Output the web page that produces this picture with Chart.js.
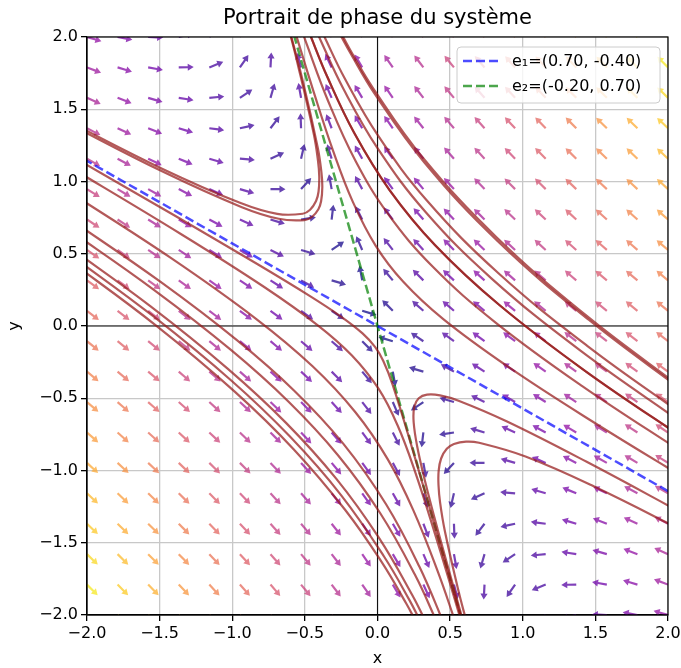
<!DOCTYPE html>
<html>
<head>
<meta charset="utf-8">
<script src="https://cdn.jsdelivr.net/npm/chart.js@4.4.1/dist/chart.umd.min.js"></script>
<style>
  body { margin: 0; background: #fff; }
  #wrap { width: 681px; height: 668px; }
</style>
</head>
<body>
<div id="wrap"><canvas id="chart"></canvas></div>
<script>
// eigenvectors from the legend, eigenvalues estimated from the arrows
const e1 = [0.70, -0.40];
const e2 = [-0.20, 0.70];
const eigVals = [-1.0, 0.5];

// quiver grid, 20 positions per axis
const gridPts = [-2.0, -1.7895, -1.5789, -1.3684, -1.1579, -0.9474, -0.7368, -0.5263, -0.3158, -0.1053,
                 0.1053, 0.3158, 0.5263, 0.7368, 0.9474, 1.1579, 1.3684, 1.5789, 1.7895, 2.0];

const tickVals = [-2.0, -1.5, -1.0, -0.5, 0.0, 0.5, 1.0, 1.5, 2.0];

// eigen direction lines
const e1Line = [[-2.8, 1.6], [2.8, -1.6]];
const e2Line = [[-0.6, 2.1], [0.6, -2.1]];

// trajectories, grouped by sector
const trajUpperLeft = [
  [[-2.162,1.418],[-1.476,1.067],[-0.938,0.824],[-0.68,0.742],[-0.502,0.733],[-0.45,0.756],[-0.407,0.808],[-0.388,0.865],[-0.38,0.96],[-0.386,1.063],[-0.411,1.232],[-0.517,1.706],[-0.643,2.188]],
  [[-2.167,1.436],[-1.483,1.089],[-0.947,0.853],[-0.69,0.776],[-0.515,0.777],[-0.464,0.805],[-0.423,0.865],[-0.406,0.929],[-0.401,1.034],[-0.41,1.147],[-0.439,1.331],[-0.557,1.845],[-0.611,2.057]]
];
const trajUpperRight = [
  [[2.188,-1.097],[1.477,-0.659],[0.901,-0.283],[0.455,0.046],[0.176,0.308],[-0.012,0.555],[-0.169,0.857],[-0.305,1.21],[-0.44,1.622],[-0.575,2.062]],
  [[2.13,-0.894],[1.407,-0.414],[0.813,0.024],[0.381,0.41],[0.071,0.778],[-0.151,1.142],[-0.34,1.557],[-0.486,1.947],[-0.555,2.146]],
  [[2.166,-0.816],[1.438,-0.317],[0.837,0.147],[0.397,0.559],[0.083,0.941],[-0.158,1.332],[-0.348,1.73],[-0.467,2.023]],
  [[2.166,-0.816],[1.438,-0.317],[0.837,0.147],[0.397,0.559],[0.083,0.941],[-0.158,1.332],[-0.348,1.73],[-0.467,2.023]],
  [[2.131,-0.693],[1.395,-0.169],[0.784,0.33],[0.331,0.789],[0.0,1.231],[-0.235,1.642],[-0.384,1.96],[-0.438,2.085]],
  [[2.147,-0.645],[1.446,-0.139],[0.833,0.365],[0.337,0.872],[0.004,1.317],[-0.227,1.716],[-0.369,2.009]],
  [[2.124,-0.464],[1.452,0.045],[0.828,0.587],[0.32,1.135],[-0.02,1.608],[-0.189,1.893],[-0.252,2.008]],
  [[2.119,-0.446],[1.445,0.066],[0.821,0.613],[0.311,1.167],[-0.031,1.647],[-0.178,1.893],[-0.239,2.005]]
];
const trajLowerLeft = [
  [[-2.231,1.247],[-1.388,0.759],[-0.825,0.427],[-0.47,0.21],[-0.254,0.067],[-0.103,-0.051],[-0.017,-0.145],[0.04,-0.242],[0.104,-0.406],[0.233,-0.826],[0.431,-1.511],[0.591,-2.07]],
  [[-2.203,1.151],[-1.354,0.637],[-0.78,0.27],[-0.411,0.005],[-0.176,-0.204],[0.007,-0.434],[0.138,-0.687],[0.259,-1.009],[0.398,-1.445],[0.526,-1.872],[0.592,-2.095]],
  [[-2.143,0.941],[-1.423,0.471],[-0.834,0.048],[-0.447,-0.279],[-0.152,-0.597],[0.071,-0.923],[0.247,-1.276],[0.416,-1.702],[0.535,-2.045]],
  [[-2.15,0.762],[-1.493,0.305],[-0.968,-0.098],[-0.575,-0.446],[-0.236,-0.814],[0.06,-1.235],[0.288,-1.665],[0.464,-2.075]],
  [[-2.159,0.69],[-1.535,0.247],[-1.007,-0.167],[-0.612,-0.524],[-0.272,-0.894],[0.019,-1.296],[0.258,-1.722],[0.411,-2.053]],
  [[-2.154,0.569],[-1.562,0.136],[-1.028,-0.298],[-0.628,-0.672],[-0.283,-1.058],[0.008,-1.463],[0.239,-1.862],[0.349,-2.082]],
  [[-2.137,0.509],[-1.542,0.066],[-1.005,-0.379],[-0.601,-0.767],[-0.251,-1.17],[0.046,-1.597],[0.22,-1.897],[0.311,-2.074]],
  [[-2.158,0.48],[-1.524,0.003],[-0.983,-0.454],[-0.576,-0.854],[-0.222,-1.273],[0.027,-1.631],[0.197,-1.919],[0.259,-2.035]]
];
const trajLowerRight = [
  [[2.133,-1.314],[1.44,-0.94],[0.892,-0.661],[0.558,-0.517],[0.43,-0.48],[0.341,-0.475],[0.284,-0.50],[0.253,-0.559],[0.249,-0.666],[0.273,-0.832],[0.327,-1.072],[0.414,-1.408],[0.525,-1.812],[0.603,-2.09]],
  [[2.172,-1.452],[1.488,-1.109],[1.019,-0.903],[0.699,-0.808],[0.61,-0.80],[0.526,-0.817],[0.477,-0.85],[0.438,-0.917],[0.421,-1.002],[0.42,-1.101],[0.431,-1.223],[0.464,-1.421],[0.551,-1.806],[0.62,-2.076]]
];

// plasma colormap stops
const plasma = ['#0d0887','#41049d','#6a00a8','#8f0da4','#b12a90','#cc4778','#e16462','#f2844b','#fca636','#fcce25','#f0f921'];

function plasmaColor(t, alpha) {
  t = Math.max(0, Math.min(1, t)) * (plasma.length - 1);
  const i = Math.min(Math.floor(t), plasma.length - 2), f = t - i;
  const c0 = plasma[i], c1 = plasma[i + 1];
  const ch = (c, k) => parseInt(c.substr(1 + 2 * k, 2), 16);
  const rgb = [0, 1, 2].map(k => Math.round(ch(c0, k) * (1 - f) + ch(c1, k) * f));
  return `rgba(${rgb[0]},${rgb[1]},${rgb[2]},${alpha})`;
}

// linear field built from the eigen pairs
function field(px, py) {
  const det = e1[0] * e2[1] - e2[0] * e1[1];
  const a = (e2[1] * px - e2[0] * py) / det;
  const b = (-e1[1] * px + e1[0] * py) / det;
  return [eigVals[0] * a * e1[0] + eigVals[1] * b * e2[0],
          eigVals[0] * a * e1[1] + eigVals[1] * b * e2[1]];
}

const fmt = v => v.toFixed(1).replace('-', '\u2212');

const quiverPlugin = {
  id: 'quiver',
  beforeDatasetsDraw(chart) {
    const { ctx, chartArea: ca, scales: { x, y } } = chart;
    ctx.save();
    ctx.beginPath();
    ctx.rect(ca.left, ca.top, ca.right - ca.left, ca.bottom - ca.top);
    ctx.clip();

    // axes through origin
    ctx.strokeStyle = '#111';
    ctx.lineWidth = 1.1;
    ctx.beginPath();
    ctx.moveTo(ca.left, y.getPixelForValue(0)); ctx.lineTo(ca.right, y.getPixelForValue(0));
    ctx.moveTo(x.getPixelForValue(0), ca.top); ctx.lineTo(x.getPixelForValue(0), ca.bottom);
    ctx.stroke();

    const vecs = [];
    gridPts.forEach(gy => gridPts.forEach(gx => {
      const [u, v] = field(gx, gy);
      vecs.push({ gx, gy, u, v, m: Math.hypot(u, v) });
    }));
    const mMin = Math.min(...vecs.map(d => d.m));
    const mMax = Math.max(...vecs.map(d => d.m));
    const L = 15, hl = 6, HW = 3.6, hw = 1.1;
    vecs.forEach(d => {
      const px = x.getPixelForValue(d.gx), py = y.getPixelForValue(d.gy);
      const dx = d.u / d.m, dy = -d.v / d.m;
      const nx = -dy, ny = dx;
      const s = L - hl;
      ctx.fillStyle = plasmaColor((d.m - mMin) / (mMax - mMin), 0.75);
      ctx.beginPath();
      ctx.moveTo(px + nx * hw, py + ny * hw);
      ctx.lineTo(px + dx * s + nx * hw, py + dy * s + ny * hw);
      ctx.lineTo(px + dx * s + nx * HW, py + dy * s + ny * HW);
      ctx.lineTo(px + dx * L, py + dy * L);
      ctx.lineTo(px + dx * s - nx * HW, py + dy * s - ny * HW);
      ctx.lineTo(px + dx * s - nx * hw, py + dy * s - ny * hw);
      ctx.lineTo(px - nx * hw, py - ny * hw);
      ctx.closePath();
      ctx.fill();
    });
    ctx.restore();
  },
  afterDraw(chart) {
    const { ctx, chartArea: ca } = chart;
    ctx.save();
    // frame
    ctx.strokeStyle = '#000';
    ctx.lineWidth = 1.2;
    ctx.strokeRect(ca.left, ca.top, ca.right - ca.left, ca.bottom - ca.top);

    // title
    ctx.fillStyle = '#000';
    ctx.font = '21px "DejaVu Sans"';
    ctx.textAlign = 'center';
    ctx.textBaseline = 'middle';
    ctx.fillText('Portrait de phase du syst\u00e8me', (ca.left + ca.right) / 2, 19);

    // legend box
    const bx = 457, by = 47, bw = 203, bh = 56, r = 4;
    ctx.beginPath();
    ctx.moveTo(bx + r, by);
    ctx.arcTo(bx + bw, by, bx + bw, by + bh, r);
    ctx.arcTo(bx + bw, by + bh, bx, by + bh, r);
    ctx.arcTo(bx, by + bh, bx, by, r);
    ctx.arcTo(bx, by, bx + bw, by, r);
    ctx.closePath();
    ctx.fillStyle = 'rgba(255,255,255,0.8)';
    ctx.fill();
    ctx.strokeStyle = '#cccccc';
    ctx.lineWidth = 1;
    ctx.stroke();

    const items = [
      { label: 'e\u2081=(0.70, -0.40)', color: 'rgba(0,0,255,0.7)', y: 61 },
      { label: 'e\u2082=(-0.20, 0.70)', color: 'rgba(0,128,0,0.7)', y: 86 }
    ];
    items.forEach(it => {
      ctx.strokeStyle = it.color;
      ctx.lineWidth = 2.5;
      ctx.setLineDash([9, 4]);
      ctx.beginPath();
      ctx.moveTo(463, it.y); ctx.lineTo(498, it.y);
      ctx.stroke();
      ctx.setLineDash([]);
      ctx.fillStyle = '#000';
      ctx.font = '16px "DejaVu Sans"';
      ctx.textAlign = 'left';
      ctx.textBaseline = 'middle';
      ctx.fillText(it.label, 512, it.y + 1);
    });
    ctx.restore();
  }
};

const toXY = pts => pts.map(([x, y]) => ({ x, y }));
const trajColor = 'rgba(150,25,25,0.72)';
const datasets = [];
[trajUpperLeft, trajUpperRight, trajLowerLeft, trajLowerRight].forEach(group => {
  group.forEach(c => datasets.push({
    data: toXY(c), showLine: true, pointRadius: 0, borderColor: trajColor,
    borderWidth: 2.2, tension: 0.4, clip: 0
  }));
});
datasets.push({ data: toXY(e1Line), showLine: true, pointRadius: 0, borderColor: 'rgba(0,0,255,0.7)',
  borderWidth: 2.5, borderDash: [9, 4], clip: 0 });
datasets.push({ data: toXY(e2Line), showLine: true, pointRadius: 0, borderColor: 'rgba(0,128,0,0.7)',
  borderWidth: 2.5, borderDash: [9, 4], clip: 0 });

const axisFont = { family: 'DejaVu Sans', size: 16 };
new Chart(document.getElementById('chart'), {
  type: 'scatter',
  data: { datasets },
  plugins: [quiverPlugin],
  options: {
    responsive: true,
    maintainAspectRatio: false,
    animation: false,
    events: [],
    layout: { padding: { left: 5, right: 13, top: 37, bottom: 0 } },
    elements: { line: { capBezierPoints: false } },
    plugins: { legend: { display: false }, tooltip: { enabled: false } },
    scales: {
      x: {
        type: 'linear', min: -2, max: 2,
        afterBuildTicks: s => { s.ticks = tickVals.map(v => ({ value: v })); },
        ticks: { callback: v => fmt(v), font: axisFont, color: '#000', padding: 3, maxRotation: 0 },
        grid: { color: '#c8c8c8', lineWidth: 1.3, tickColor: '#000', tickLength: 6 },
        border: { color: '#000', width: 1.2 },
        title: { display: true, text: 'x', font: axisFont, color: '#000', padding: 0 },
        afterFit: s => { s.height = 53; s.paddingLeft = 0; s.paddingRight = 0; }
      },
      y: {
        type: 'linear', min: -2, max: 2,
        afterBuildTicks: s => { s.ticks = tickVals.map(v => ({ value: v })); },
        ticks: { callback: v => fmt(v), font: axisFont, color: '#000', padding: 3 },
        grid: { color: '#c8c8c8', lineWidth: 1.3, tickColor: '#000', tickLength: 6 },
        border: { color: '#000', width: 1.2 },
        title: { display: true, text: 'y', font: axisFont, color: '#000', padding: 0 },
        afterFit: s => { s.width = 82; s.paddingTop = 0; s.paddingBottom = 0; }
      }
    }
  }
});
</script>
</body>
</html>
